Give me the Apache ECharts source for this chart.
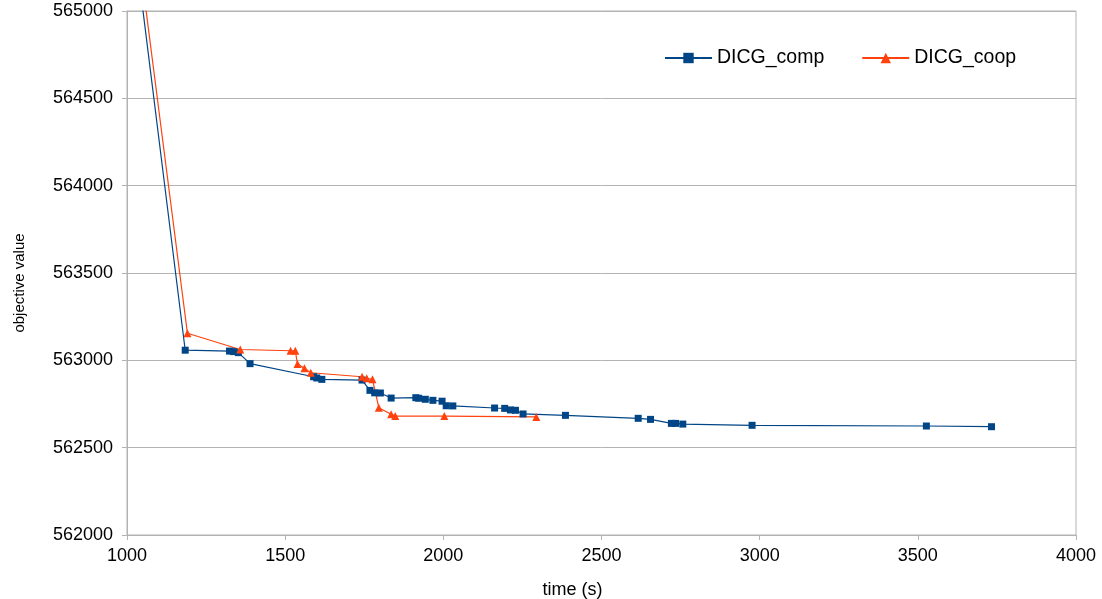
<!DOCTYPE html>
<html>
<head>
<meta charset="utf-8">
<script src="https://cdn.jsdelivr.net/npm/echarts@6/dist/echarts.min.js"></script>
<style>
  html, body { margin: 0; padding: 0; background: #fff; }
  #chart { width: 1102px; height: 599px; }
</style>
</head>
<body>
<div id="chart"></div>
<script>
// time (s) / objective value
const compTime = [1030, 1184, 1324, 1336, 1352, 1389, 1590, 1600, 1616, 1743, 1768, 1783, 1801, 1835, 1913, 1922, 1943, 1967, 1996, 2009, 2030, 2162, 2194, 2212, 2228, 2252, 2386, 2616, 2655, 2721, 2734, 2757, 2976, 3527, 3733];
const compValue = [565300, 563058, 563053, 563050, 563044, 562981, 562906, 562899, 562891, 562887, 562828, 562814, 562813, 562784, 562786, 562783, 562777, 562771, 562766, 562740, 562739, 562727, 562725, 562716, 562714, 562693, 562685, 562668, 562662, 562639, 562639, 562635, 562628, 562624, 562620];

const coopTime = [1040, 1191, 1358, 1517, 1532, 1539, 1561, 1581, 1743, 1758, 1776, 1796, 1835, 1848, 2003, 2294];
const coopValue = [565290, 563155, 563062, 563055, 563055, 562979, 562954, 562929, 562906, 562897, 562891, 562729, 562691, 562681, 562681, 562676];

const seriesNames = ['DICG_comp', 'DICG_coop'];

const font = 'Liberation Sans';
const gray = '#b3b3b3';

const pairs = (xs, ys) => xs.map((x, i) => [x, ys[i]]);
const plain = (v) => String(v);

const chart = echarts.init(document.getElementById('chart'));

chart.setOption({
    animation: false,
    textStyle: { fontFamily: font },
    grid: {
        left: 127,
        right: 26,
        top: 11,
        bottom: 64,
        outerBoundsMode: 'none',
        containLabel: false,
        show: true,
        borderColor: gray,
        borderWidth: 1,
    },
    legend: {
        left: 659,
        top: 43,
        itemWidth: 47,
        itemHeight: 13,
        itemGap: 37,
        textStyle: { fontSize: 19.5, color: '#000', fontFamily: font },
        data: seriesNames,
    },
    xAxis: {
        type: 'value',
        min: 1000,
        max: 4000,
        interval: 500,
        name: 'time (s)',
        nameLocation: 'middle',
        nameGap: 46,
        nameTextStyle: { fontSize: 18, color: '#000', padding: [0, 58, 0, 0] },
        axisLine: { lineStyle: { color: gray } },
        axisTick: { show: true, length: 5, lineStyle: { color: gray } },
        axisLabel: { fontSize: 18, color: '#000', margin: 12, formatter: plain },
        splitLine: { show: false },
    },
    yAxis: {
        type: 'value',
        min: 562000,
        max: 565000,
        interval: 500,
        name: 'objective value',
        nameLocation: 'middle',
        nameGap: 100,
        nameTextStyle: { fontSize: 15, color: '#000', padding: [0, 20, 0, 0] },
        axisLine: { show: true, lineStyle: { color: gray } },
        axisTick: { show: true, length: 5, lineStyle: { color: gray } },
        axisLabel: { fontSize: 18, color: '#000', margin: 14, formatter: plain },
        splitLine: { show: true, lineStyle: { color: gray } },
    },
    series: [
        {
            name: seriesNames[0],
            type: 'line',
            clip: true,
            symbol: 'rect',
            symbolSize: 7,
            color: '#004586',
            lineStyle: { width: 1.2 },
            data: pairs(compTime, compValue),
        },
        {
            name: seriesNames[1],
            type: 'line',
            clip: true,
            symbol: 'triangle',
            symbolSize: 8,
            color: '#ff420e',
            lineStyle: { width: 1.2 },
            data: pairs(coopTime, coopValue),
        },
    ],
});

window.addEventListener('resize', chart.resize);
</script>
</body>
</html>
